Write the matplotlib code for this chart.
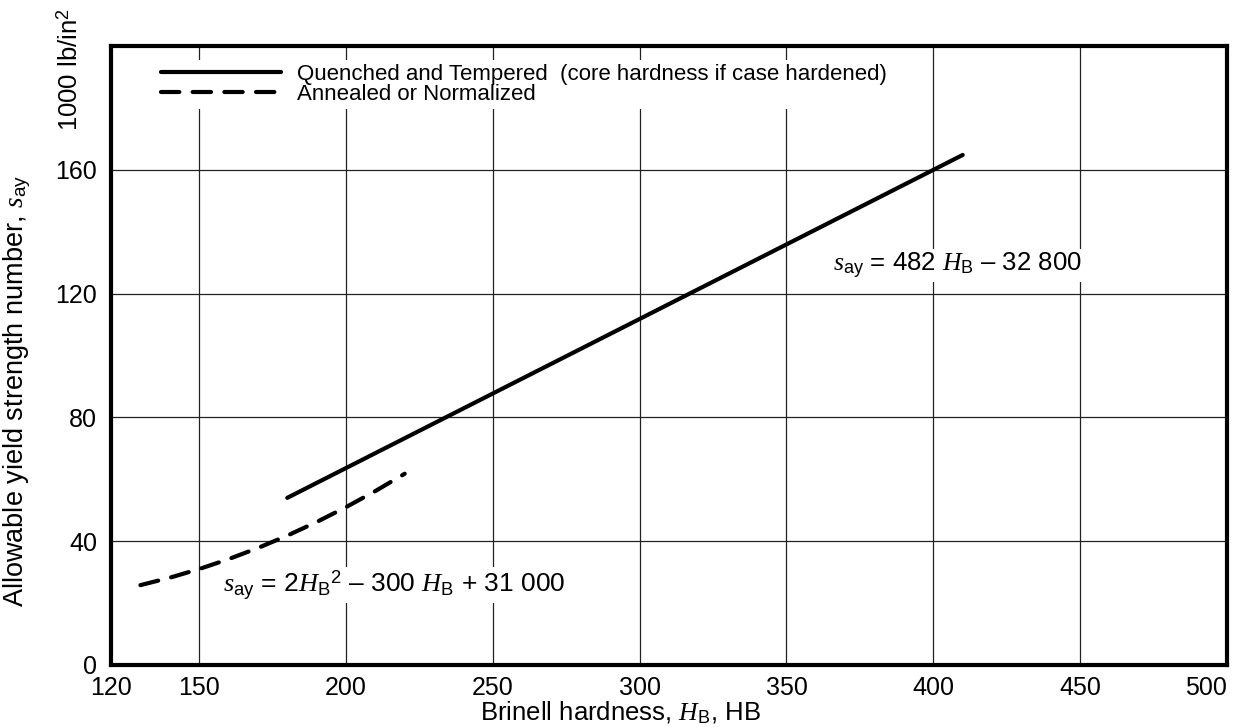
import matplotlib
matplotlib.use('Agg')
import matplotlib.pyplot as plt

plt.rcParams['font.family'] = ['Liberation Sans', 'DejaVu Sans']
plt.rcParams['mathtext.fontset'] = 'custom'
plt.rcParams['mathtext.rm'] = 'Liberation Sans'
plt.rcParams['mathtext.it'] = 'Liberation Serif:italic'

# data (1000 lb/in^2)
hb_qt = [180, 410]
say_qt = [54.0, 164.8]
hb_an = [130, 140, 150, 160, 170, 180, 190, 200, 210, 220]
say_an = [25.8, 28.2, 31.0, 34.2, 37.8, 41.8, 46.2, 51.0, 56.2, 61.8]

xticks = [120, 150, 200, 250, 300, 350, 400, 450, 500]
yticks = [0, 40, 80, 120, 160]

fig = plt.figure(figsize=(12.38, 7.27), dpi=100)
ax = fig.add_axes([0.0897, 0.0853, 0.9014, 0.8514])

ax.plot(hb_qt, say_qt, color='black', lw=3.0, solid_capstyle='round',
        label='Quenched and Tempered  (core hardness if case hardened)', zorder=3)
ax.plot(hb_an, say_an, color='black', lw=3.0, dashes=(4.4, 3.2), dash_capstyle='round',
        label='Annealed or Normalized', zorder=3)

ax.set_xlim(120, 500)
ax.set_ylim(0, 200)
ax.set_xticks(xticks)
ax.set_yticks(yticks)
ax.tick_params(length=0, labelsize=18)
ax.tick_params(axis='x', pad=8)
ax.tick_params(axis='y', pad=10)
ax.get_xticklabels()[-1].set_ha('right')
ax.grid(True, color='#222222', lw=0.9)
ax.set_axisbelow(True)
for s in ax.spines.values():
    s.set_linewidth(3.0)

leg = ax.legend(loc='upper left', bbox_to_anchor=(0.041, 0.978), fontsize=16,
                handlelength=5.4, handletextpad=0.7, labelspacing=-0.05,
                frameon=True, fancybox=False, borderpad=0.2, borderaxespad=0)
leg.get_frame().set_edgecolor('none')
leg.get_frame().set_facecolor('white')
leg.get_frame().set_alpha(1)

box = dict(facecolor='white', edgecolor='none', pad=1)
ax.text(366, 129, '$s_{\\mathrm{ay}}$ = 482 $H_{\\mathrm{B}}$ \u2013 32 800', fontsize=18.5,
        ha='left', va='center', bbox=box, zorder=2)
ax.text(158, 25.8, '$s_{\\mathrm{ay}}$ = 2$H_{\\mathrm{B}}$$^{2}$ \u2013 300 $H_{\\mathrm{B}}$ + 31 000',
        fontsize=19, ha='left', va='center', bbox=box, zorder=2)

ax.set_xlabel(r'Brinell hardness, $H_{\mathrm{B}}$, HB', fontsize=18.5)
ax.xaxis.set_label_coords(0.456, -0.056)
ax.set_ylabel(r'Allowable yield strength number, $s_{\mathrm{ay}}$', fontsize=19.5)
ax.yaxis.set_label_coords(-0.070, 0.443)
fig.text(0.0565, 0.904, r'1000 lb/in$^{2}$', rotation=90, fontsize=18.5,
         ha='center', va='center')

fig.savefig('out.png', dpi=100)
